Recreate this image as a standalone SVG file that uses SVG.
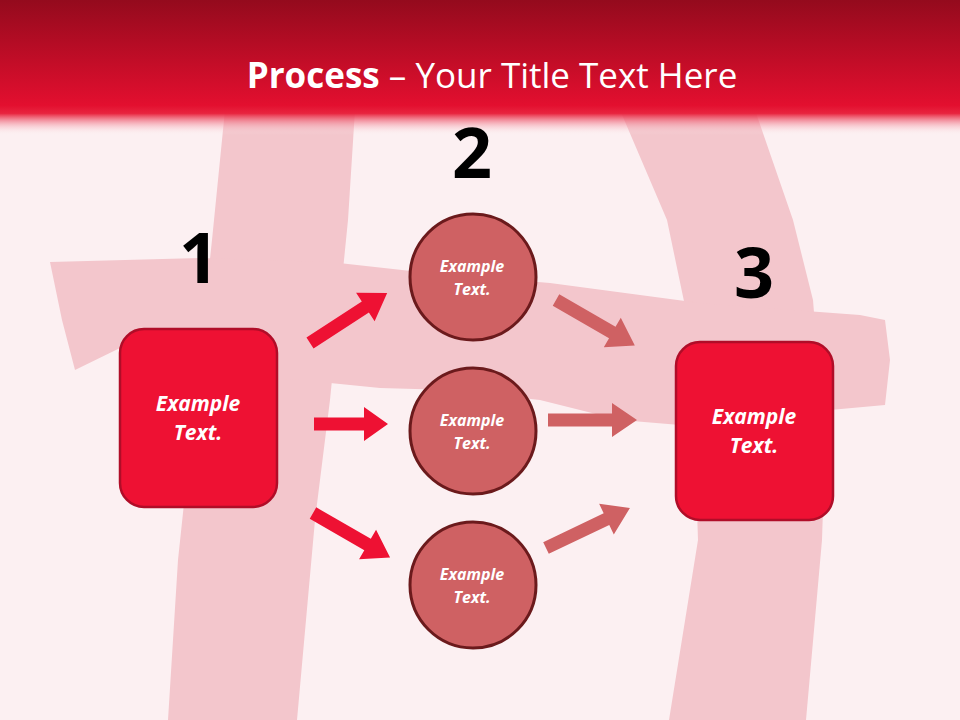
<svg xmlns="http://www.w3.org/2000/svg" width="960" height="720" viewBox="0 0 960 720">
<defs>
<linearGradient id="hdr" x1="0" y1="0" x2="0" y2="1">
<stop offset="0" stop-color="#940a1d"/>
<stop offset="0.78" stop-color="#e30f2f"/>
<stop offset="0.84" stop-color="#e8243f"/>
<stop offset="1" stop-color="#fcf0f2" stop-opacity="0"/>
</linearGradient>
<style>
.brush{fill:#f3c6cc}
.sq{fill:#ee1133;stroke:#b00d28;stroke-width:2.5}
.ci{fill:#cf6163;stroke:#6b1a1c;stroke-width:3}
.lbl{font-family:"Open Sans","Liberation Sans",sans-serif;font-weight:bold;font-style:italic;fill:#fff;text-anchor:middle}
.num{font-family:"Open Sans","Liberation Sans",sans-serif;font-weight:bold;fill:#000;text-anchor:middle;font-size:70px}
.ar1{fill:#ee1133}
.ar2{fill:#cf6163}
</style>
</defs>
<rect width="960" height="720" fill="#fcf0f2"/>
<g id="background-brush">
<path class="brush" d="M225,110 L355,110 L348,220 L330,400 L315,520 L297,720 L168,720 L178,560 L195,400 L212,240 Z"/>
<path class="brush" d="M620,110 L755,110 L793,220 L813,300 L825,450 L822,540 L806,720 L669,720 L698,540 L694,420 L690,330 L667,220 Z"/>
<path class="brush" d="M50,262 L200,258 L330,262 L420,272 L550,283 L700,303 L860,315 L885,320 L890,360 L885,405 L830,410 L680,425 L620,420 L540,400 L450,390 L380,388 L300,380 L220,375 L120,348 L75,370 L62,320 Z"/>
</g>
<rect width="960" height="135" fill="url(#hdr)"/>
<text x="492" y="88" text-anchor="middle" font-family="Open Sans, Liberation Sans, sans-serif" font-size="35" fill="#fff"><tspan font-weight="bold">Process</tspan> – Your Title Text Here</text>
<g id="connectors">
<path class="ar1" d="M0,-6.5 H66 V-17 L92,0 L66,17 V6.5 H0 Z" transform="translate(310,343) rotate(-33)"/>
<path class="ar1" d="M0,-6.5 H50 V-17 L74,0 L50,17 V6.5 H0 Z" transform="translate(314,424)"/>
<path class="ar1" d="M0,-6.5 H63 V-17 L89,0 L63,17 V6.5 H0 Z" transform="translate(313,513) rotate(30)"/>
<path class="ar2" d="M0,-6.5 H65 V-17 L91,0 L65,17 V6.5 H0 Z" transform="translate(556,300) rotate(30)"/>
<path class="ar2" d="M0,-6.5 H64 V-17 L89,0 L64,17 V6.5 H0 Z" transform="translate(548,420)"/>
<path class="ar2" d="M0,-6.5 H67 V-17 L93,0 L67,17 V6.5 H0 Z" transform="translate(546,548) rotate(-25.5)"/>
</g>
<g id="node-1">
<text class="num" x="199" y="283">1</text>
<rect class="sq" x="120" y="329" width="157" height="178" rx="24"/>
<text class="lbl" x="198" y="411" font-size="21">Example</text>
<text class="lbl" x="198" y="440" font-size="21">Text.</text>
</g>
<g id="node-2a">
<text class="num" x="472" y="178">2</text>
<circle class="ci" cx="473" cy="277" r="63"/>
<text class="lbl" x="472" y="272" font-size="16">Example</text>
<text class="lbl" x="472" y="295" font-size="16">Text.</text>
</g>
<g id="node-2b">
<circle class="ci" cx="473" cy="431" r="63"/>
<text class="lbl" x="472" y="426" font-size="16">Example</text>
<text class="lbl" x="472" y="449" font-size="16">Text.</text>
</g>
<g id="node-2c">
<circle class="ci" cx="473" cy="585" r="63"/>
<text class="lbl" x="472" y="580" font-size="16">Example</text>
<text class="lbl" x="472" y="603" font-size="16">Text.</text>
</g>
<g id="node-3">
<text class="num" x="754" y="298">3</text>
<rect class="sq" x="676" y="342" width="157" height="178" rx="24"/>
<text class="lbl" x="754" y="424" font-size="21">Example</text>
<text class="lbl" x="754" y="453" font-size="21">Text.</text>
</g>
</svg>
